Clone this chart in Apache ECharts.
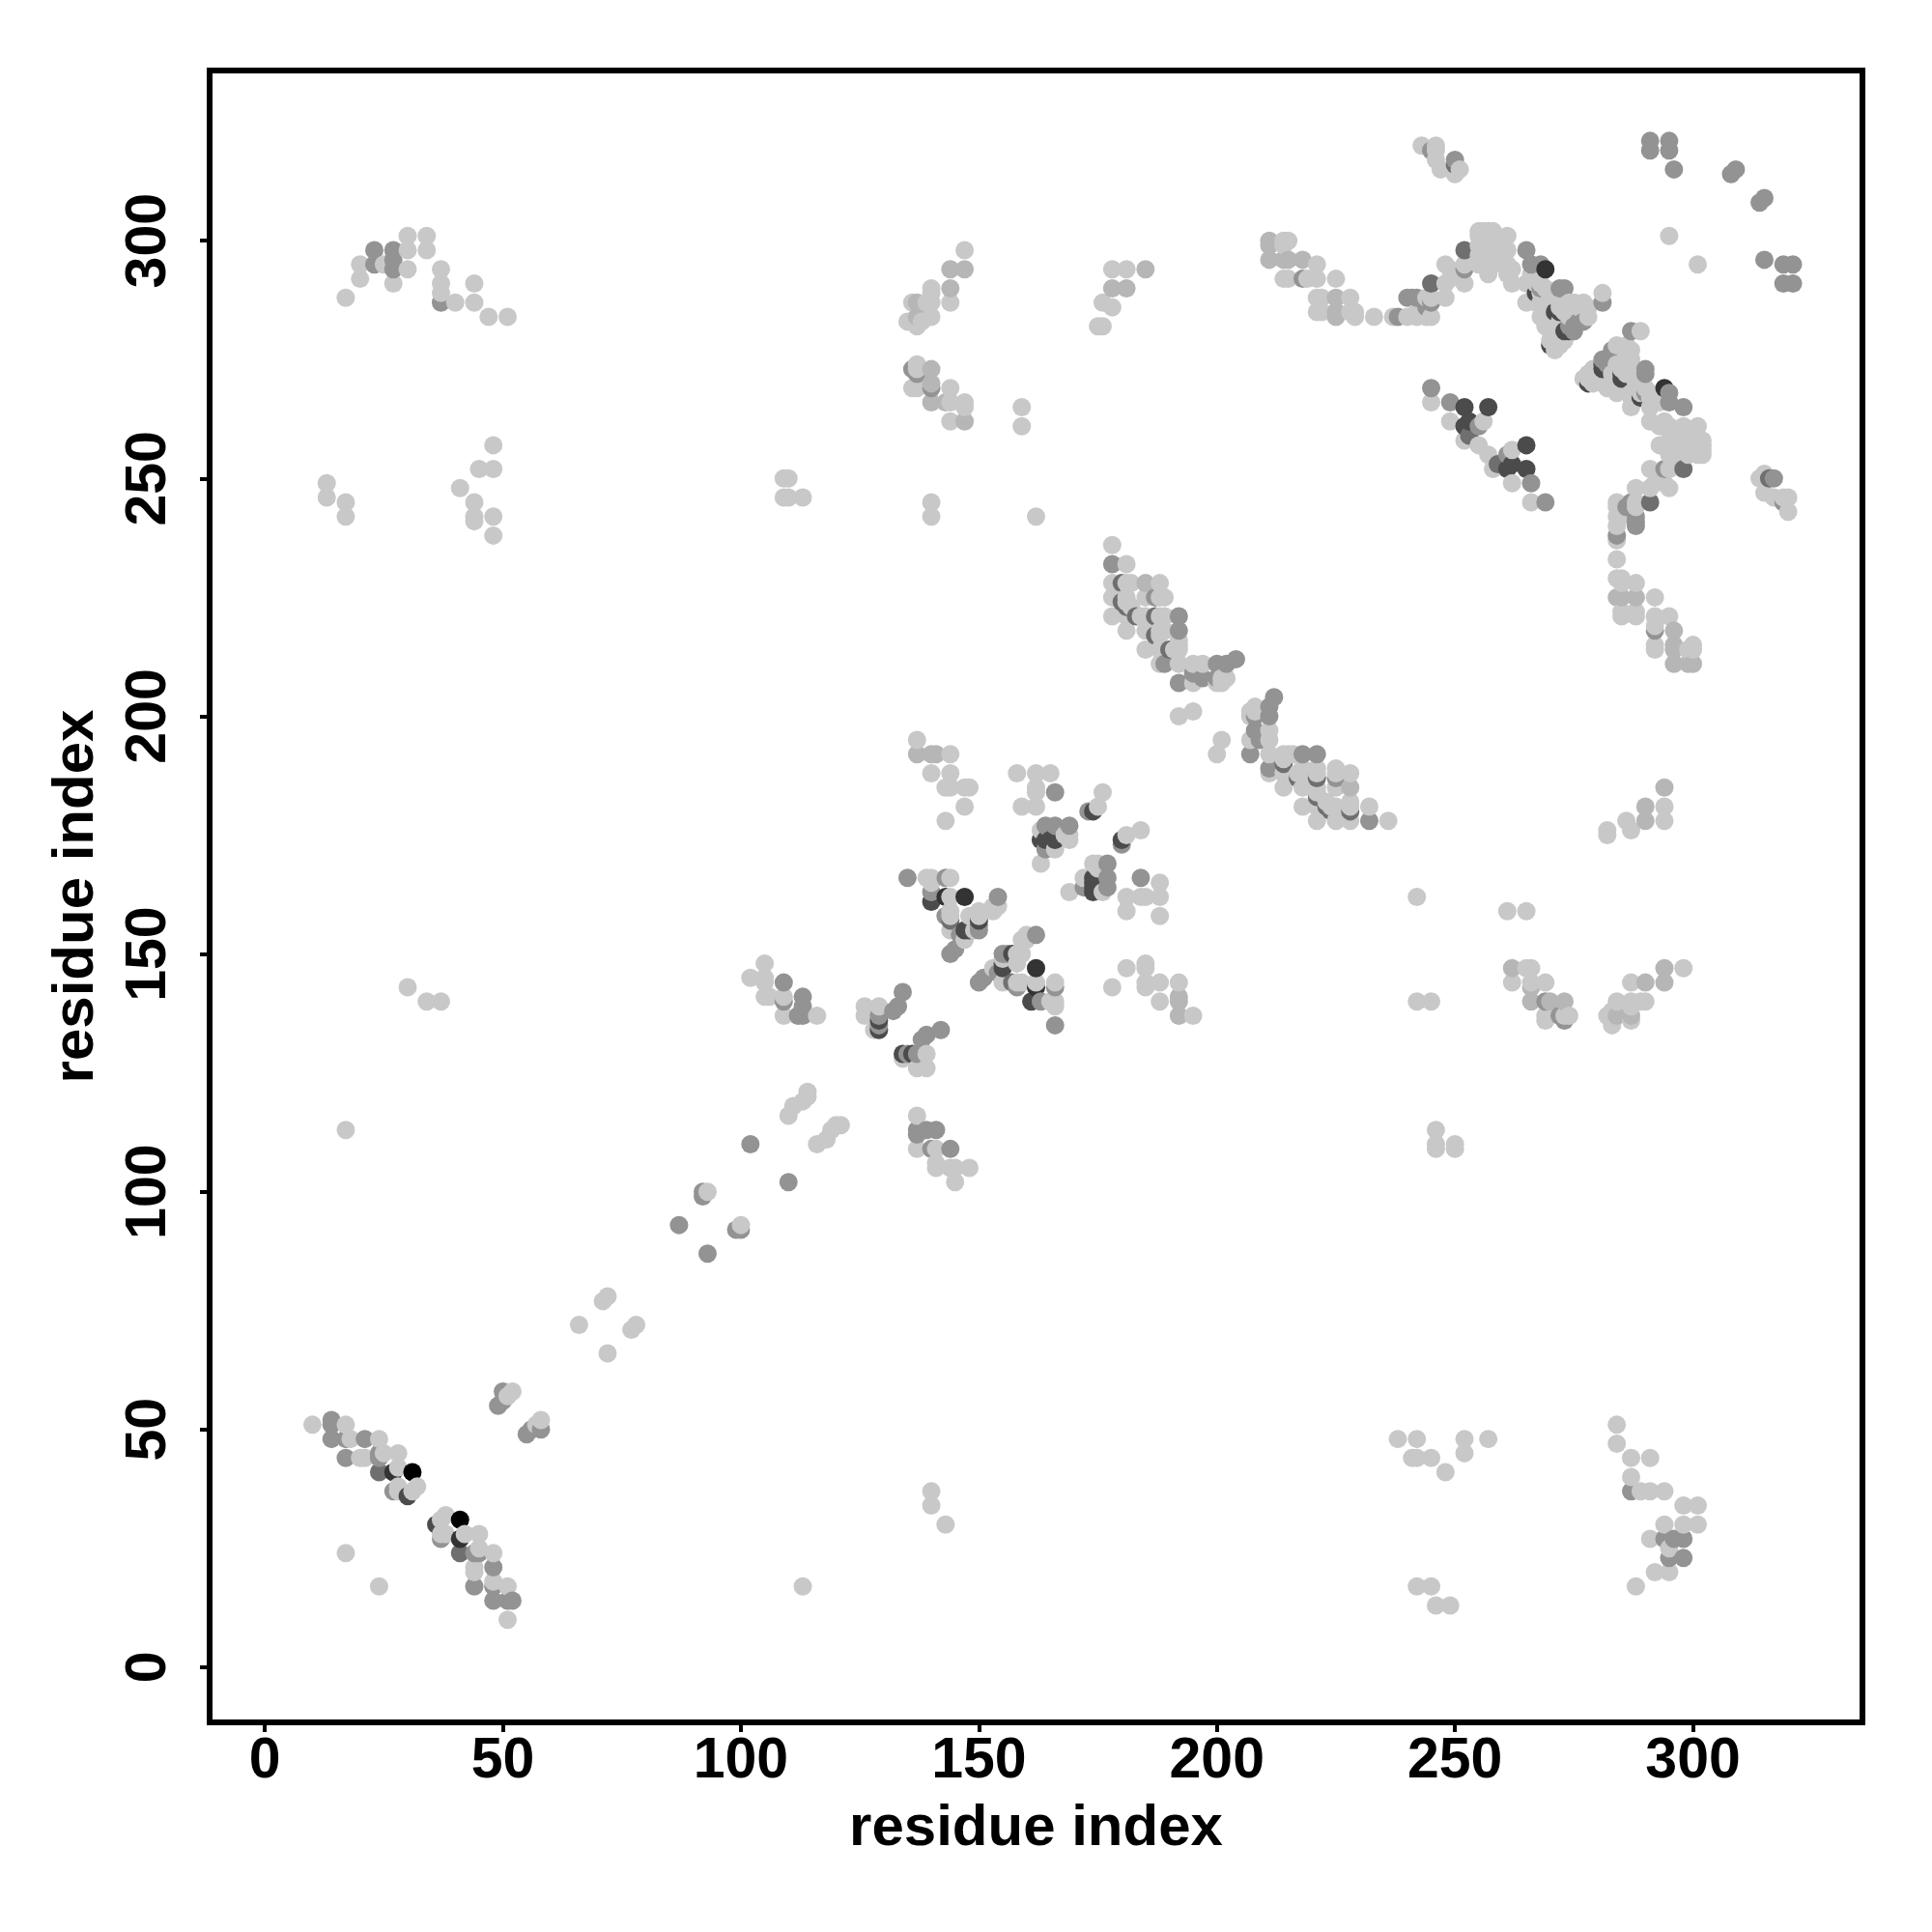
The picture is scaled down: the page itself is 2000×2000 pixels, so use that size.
<!DOCTYPE html>
<html><head><meta charset="utf-8">
<style>html,body{margin:0;padding:0;background:#fff}#c{width:2000px;height:2000px}</style>
<script src="https://cdn.jsdelivr.net/npm/echarts@6/dist/echarts.min.js"></script>
</head><body><div id="c"></div>
<script>
const tickValues = [0, 50, 100, 150, 200, 250, 300];
const axisTitle = "residue index";

const contactsLight = [
[10,51],[17,51],[18,48],[24,48],[20,44],[21,44],[25,45],[28,45],[28,42],[28,37],[28,38],[31,37],[32,38],[17,24],[17,113],
[51,57],[52,58],[66,72],[71,77],[72,78],[93,100],[110,116],[111,118],[113,119],[114,120],[114,121],
[116,137],[109,137],[109,141],[105,141],[106,141],[105,144],[105,145],[105,148],[102,145],
[126,137],[126,139],[129,139],[128,134],[30,143],[34,140],[37,140],
[139,166],[140,165],[140,166],[144,166],[144,162],[144,158],[150,159],[150,158],[148,158],[153,159],[153,160],[154,160],[144,155],[149,155],[147,153],[144,159],
[163,169],[166,172],[168,175],[169,174],[169,175],[163,176],[175,181],[176,184],
[158,188],[162,188],[165,188],[162,184],[162,185],[159,181],[162,181],
[137,195],[144,192],[140,188],[144,188],[143,185],[144,185],[147,185],[148,185],[147,181],[143,178],
[178,236],[181,232],[178,228],[181,228],[182,228],[188,228],[178,225],[181,225],[185,225],[188,225],[189,225],[181,224],[182,223],[178,221],[181,221],[184,221],[185,221],[188,221],[189,221],
[181,218],[185,218],[188,218],[189,218],[188,217],[185,214],[188,214],[191,214],[192,214],[192,215],[192,216],[188,211],[192,211],[195,211],[197,211],[195,207],[201,208],[200,207],[192,200],[195,201],[202,208],[201,207],
[215,300],[214,300],[214,299],[221,295],[214,292],[215,292],[219,292],[221,292],[225,292],[221,288],[222,288],[228,288],[221,285],[222,285],[228,285],[229,285],[233,284],[237,284],[240,284],[242,284],[244,284],[244,288],[248,288],[248,291],[249,292],[252,291],[248,295],[249,294],[252,295],[245,288],[245,284],[242,285],[229,284],
[255,302],[256,302],[257,302],[258,302],[255,301],[258,301],[255,299],[256,299],[257,299],[258,299],[255,297],[257,297],[258,297],[255,295],[256,295],[257,295],[258,295],[257,293],[261,301],[261,298],[261,295],[261,293],[262,294],[262,291],[265,291],[266,293],[265,287],[267,287],[268,287],[267,291],[268,291],[268,289],[269,290],[270,288],[268,284],[269,282],[270,284],[270,281],[270,279],[271,278],[272,286],[273,285],[272,287],[274,287],[275,287],[276,286],[277,287],[278,286],[278,284],[272,283],[274,284],[272,280],[272,278],[271,277],[273,279],[281,289],
[245,266],[249,262],[256,262],[252,258],[255,257],[243,320],[246,320],[246,319],[246,317],[247,315],[251,315],[250,314],[250,315],[295,301],
[147,298],[140,290],[140,289],[144,287],[136,287],[139,287],[140,287],[140,284],[135,283],[138,283],[137,282],[137,274],[137,273],[136,269],[137,269],[144,269],[144,266],[147,266],[144,262],[147,265],[159,265],[159,261],[140,245],[140,242],[162,242],
[175,282],[176,282],[176,287],[178,286],[178,294],[181,294],
[13,249],[13,246],[17,245],[17,242],[41,248],[44,245],[44,242],[44,241],[45,252],[48,252],[48,257],[48,242],[48,238],[109,250],[110,250],[109,246],[110,246],[113,246],
[17,288],[20,295],[20,292],[25,295],[27,291],[30,301],[30,298],[30,294],[34,301],[34,298],[37,294],[37,291],[37,289],[40,287],[44,287],[44,291],[47,284],[51,284]
];
const contactsPale = [
[137,192],[140,192],[141,192],[185,228],[211,300],[211,299],[211,296],[214,296],[215,296],[218,296],[225,288],[225,285],[225,284],
[144,294],[147,294],[144,290],[137,287],[137,284],[140,273],[140,270],[140,266],[143,266],[147,262],[178,290],[181,290],[185,294]
];
const contactsMid = [
[14,52],[14,48],[14,51],[17,48],[21,48],[17,44],[24,44],[24,45],[27,37],[49,55],[50,58],[50,56],[87,93],[92,99],[92,100],[102,110],
[113,137],[112,137],[113,141],[113,139],[109,140],[109,144],[134,142],[133,139],[132,138],[129,135],[129,137],[135,166],[143,166],[140,163],[143,158],[146,154],[150,155],[144,150],[145,151],[150,156],[154,162],
[164,172],[164,177],[166,177],[169,177],[166,184],[173,180],[178,232],[192,221],[192,218],[187,225],[189,211],[192,207],[197,208],[200,208],[200,211],[202,211],[204,212],[195,209],
[218,292],[238,284],[240,288],[241,288],[242,288],[244,286],[252,294],[245,287],[265,298],[266,295],[268,295],[268,290],[272,290],[273,290],[274,282],[275,281],[275,282],[276,283],[277,283],[281,287],
[245,269],[249,266],[255,261],[253,259],[250,317],[291,321],[291,319],[295,321],[295,319],[296,315],[308,314],[309,315],[136,273],[137,272],[140,269],[245,319],
[23,298],[23,295],[27,298],[27,296],[27,294],[37,287]
];
const contactsDim = [
[24,41],[183,221],[180,228],[180,224],[181,223],[187,221],[187,217],[190,214],[245,291],[259,253],[144,157],[250,316],[252,298]
];
const contactsDark = [
[129,134],[129,136],[140,161],[147,155],[148,155],[150,157],[163,174],[164,174],[165,174],[166,174],[174,180],[252,265],[257,265],[252,261],[253,262],[271,285],[272,285],[273,281],[274,281],[270,278],[267,289],[30,36]
];
const contactsVeryDark = [[27,41],[269,294],[147,162],[143,162]];
const contactsBlack = [[31,41]];

const shades = [
  [contactsLight, '#c8c8c8'], [contactsPale, '#b6b6b6'], [contactsMid, '#939393'],
  [contactsDim, '#6f6f6f'], [contactsDark, '#4b4b4b'], [contactsVeryDark, '#333333'], [contactsBlack, '#000000']
];
const seen = new Map();
shades.forEach(([pairs, color]) => pairs.forEach(([i, j]) => {
  seen.set(i + '_' + j, {value: [i, j], itemStyle: {color}});
  seen.set(j + '_' + i, {value: [j, i], itemStyle: {color}});
}));
const points = [...seen.values()].sort((a, b) => a.value[0] - b.value[0] || a.value[1] - b.value[1]);

const fontBase = {fontFamily: '"Liberation Sans", Arial, sans-serif', fontWeight: 'bold', color: '#000'};
const labelFont = Object.assign({fontSize: 59}, fontBase);
const nameFont = Object.assign({fontSize: 60}, fontBase);
const chart = echarts.init(document.getElementById('c'), null, {renderer: 'canvas'});
chart.setOption({
  animation: false,
  backgroundColor: '#fff',
  grid: {left: 217, right: 72, top: 73, bottom: 217, show: true, borderColor: '#000', borderWidth: 6, backgroundColor: 'transparent', containLabel: false},
  xAxis: {
    type: 'value', min: -11.6, max: 335.6,
    name: axisTitle, nameLocation: 'middle', nameGap: 80, nameTextStyle: nameFont,
    splitLine: {show: false}, axisLine: {show: false, onZero: false},
    axisTick: {show: true, length: 10, lineStyle: {color: '#000', width: 4}, customValues: tickValues},
    axisLabel: Object.assign({margin: 11, customValues: tickValues, showMinLabel: true, showMaxLabel: true}, labelFont)
  },
  yAxis: {
    type: 'value', min: -11.6, max: 335.8,
    name: axisTitle, nameLocation: 'middle', nameGap: 108, nameRotate: 90, nameTextStyle: nameFont,
    splitLine: {show: false}, axisLine: {show: false, onZero: false},
    axisTick: {show: true, length: 10, lineStyle: {color: '#000', width: 4}, customValues: tickValues},
    axisLabel: Object.assign({margin: 33, rotate: 90, customValues: tickValues, showMinLabel: true, showMaxLabel: true}, labelFont)
  },
  series: [{type: 'scatter', symbol: 'circle', symbolSize: 19, data: points, clip: true, silent: true, itemStyle: {opacity: 1}}]
});
</script></body></html>
